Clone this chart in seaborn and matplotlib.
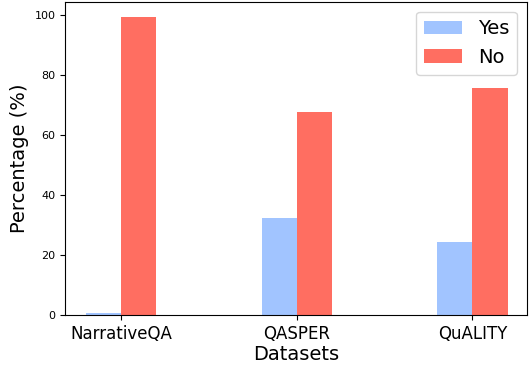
import matplotlib
matplotlib.use("Agg")
import matplotlib.pyplot as plt
import seaborn as sns
import pandas as pd

datasets = ["NarrativeQA", "QASPER", "QuALITY"]
yes_pct = [0.7, 32.3, 24.4]
no_pct = [99.3, 67.7, 75.6]

df = pd.DataFrame({
    "Dataset": datasets * 2,
    "Answer": ["Yes"] * 3 + ["No"] * 3,
    "Percentage": yes_pct + no_pct,
})

fig, ax = plt.subplots(figsize=(5.3, 3.65), dpi=100)
sns.barplot(data=df, x="Dataset", y="Percentage", hue="Answer",
            palette={"Yes": "#A1C4FF", "No": "#FF6E61"},
            width=0.4, saturation=1, ax=ax)

ax.set_xlim(-0.32, 2.31)
ax.set_xlabel("Datasets", fontsize=14, labelpad=2)
ax.set_ylabel("Percentage (%)", fontsize=14)
ax.tick_params(axis="x", labelsize=12)
ax.tick_params(axis="y", labelsize=8)
ax.legend(loc="upper right", fontsize=14)

fig.subplots_adjust(left=0.123, right=0.994, top=0.995, bottom=0.137)
plt.savefig("out.png", dpi=100)
